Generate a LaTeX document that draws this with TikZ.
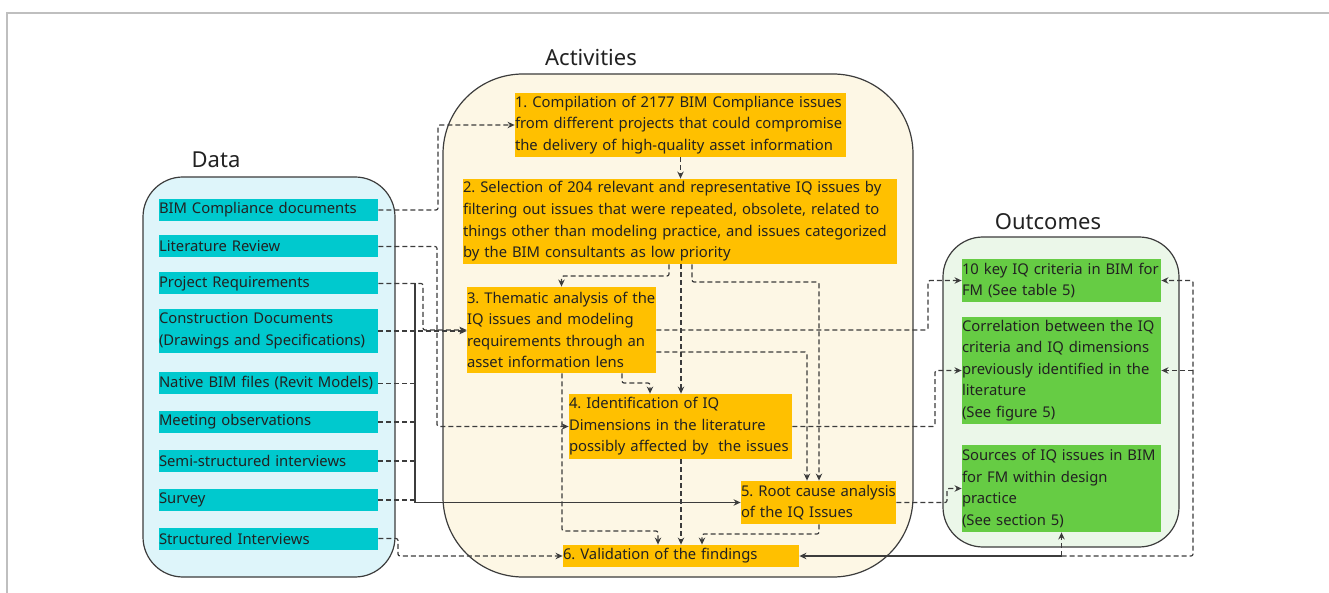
\documentclass[tikz,border=0pt]{standalone}
\usepackage{fontspec}
\setmainfont{Noto Sans}
\usetikzlibrary{arrows.meta}
\definecolor{srcfill}{RGB}{0,201,206}
\definecolor{actfill}{RGB}{255,192,0}
\definecolor{outfill}{RGB}{102,204,68}
\definecolor{srcbg}{RGB}{222,245,250}
\definecolor{actbg}{RGB}{253,247,229}
\definecolor{outbg}{RGB}{235,247,233}
\definecolor{linegray}{RGB}{60,60,60}
\definecolor{textdark}{RGB}{34,34,34}

\begin{document}
\begin{tikzpicture}[x=0.5pt,y=-0.5pt,
  every node/.style={font=\fontsize{7.4}{10.8}\selectfont\frenchspacing, text=textdark},
  box/.style={inner xsep=0pt, inner ysep=0pt, align=left},
  srcbox/.style={box, fill=srcfill, text width=109.5pt, minimum height=11pt},
  actbox/.style={box, fill=actfill},
  outbox/.style={box, fill=outfill, text width=99.5pt},
  group/.style={draw=linegray, line width=0.6pt},
  ttl/.style={font=\fontsize{11}{13}\selectfont},
  link/.style={draw=linegray, line width=0.6pt, dash pattern=on 2.5pt off 1.5pt, rounded corners=1pt, -{Stealth[length=3.5pt,width=3.2pt]}},
  busline/.style={draw=linegray, line width=0.7pt, -{Stealth[length=3.5pt,width=3.2pt]}}
]
\useasboundingbox[fill=white] (0,0) rectangle (1329,593);
\draw[gray!50, line width=1pt] (1329,13) -- (7,13) -- (7,593);

\draw[group, fill=srcbg, rounded corners=20pt] (143,177) rectangle (395,577);
\draw[group, fill=actbg, rounded corners=40pt] (443,74) rectangle (913,577);
\draw[group, fill=outbg, rounded corners=20pt] (943,237) rectangle (1179,547);

\node[ttl] (srcttl) at (216,160) {Data};
\node[ttl] (actttl) at (591,58) {Activities};
\node[ttl] (outttl) at (1048,222) {Outcomes};

\node[srcbox] (bim) at (268.5,210) {BIM Compliance documents};
\node[srcbox] (lit) at (268.5,246.5) {Literature Review};
\node[srcbox] (req) at (268.5,283.5) {Project Requirements};
\node[srcbox, minimum height=22pt] (cons) at (268.5,331) {Construction Documents\\(Drawings and Specifications)};
\node[srcbox] (rvt) at (268.5,383.5) {Native BIM files (Revit Models)};
\node[srcbox] (meet) at (268.5,422) {Meeting observations};
\node[srcbox] (semi) at (268.5,461) {Semi-structured interviews};
\node[srcbox] (surv) at (268.5,500) {Survey};
\node[srcbox] (sint) at (268.5,538.5) {Structured Interviews};

\node[actbox, text width=165.5pt, minimum height=32pt] (a1) at (680.5,125) {1. Compilation of 2177 BIM Compliance issues\\from different projects that could compromise\\the delivery of high-quality asset information};
\node[actbox, text width=217pt, minimum height=42.5pt] (a2) at (680,221.5) {2. Selection of 204 relevant and representative IQ issues by\\filtering out issues that were repeated, obsolete, related to\\things other than modeling practice, and issues categorized\\by the BIM consultants as low priority};
\node[actbox, text width=94.5pt, minimum height=43pt] (a3) at (561.5,330) {3. Thematic analysis of the\\IQ issues and modeling\\requirements through an\\asset information lens};
\node[actbox, text width=111.5pt, minimum height=32.5pt] (a4) at (680.5,426.5) {4. Identification of IQ\\Dimensions in the literature\\possibly affected by\ \ the issues};
\node[actbox, text width=77.5pt, minimum height=21.5pt] (a5) at (818.5,502.5) {5. Root cause analysis\\of the IQ Issues};
\node[actbox, text width=118pt, minimum height=11pt] (a6) at (681,556) {6. Validation of the findings};

\node[outbox, minimum height=21.5pt] (o1) at (1061.5,280.5) {10 key IQ criteria in BIM for\\FM (See table 5)};
\node[outbox, minimum height=53.5pt] (o2) at (1061.5,370.5) {Correlation between the IQ\\criteria and IQ dimensions\\previously identified in the\\literature\\(See figure 5)};
\node[outbox, minimum height=43.5pt] (o3) at (1061.5,488.5) {Sources of IQ issues in BIM\\for FM within design\\practice\\(See section 5)};

\draw[link] (bim.east) -- (438,210) |- (a1.west);
\draw[link] (lit.east) -- (437,246.5) |- (a4.west);
\draw[link] (req.east) -- (423,283.5) |- (a3.west);
\draw[link] (cons.east) -- (cons.east -| a3.west);
\draw[busline] (415,283.5) |- (a5.west);
\draw[link, -] (rvt.east) -- (rvt.east -| 415,0);
\draw[link, -] (meet.east) -- (meet.east -| 415,0);
\draw[link, -] (semi.east) -- (semi.east -| 415,0);
\draw[link, -] (surv.east) -- (surv.east -| 415,0);
\draw[link] (sint.east) -- (398,538.5) |- (a6.west);

\draw[link] (a1.south) -- (a1.south |- a2.north);
\draw[link] (a2.south -| 669,0) -- (669,276) -| (a3.north);
\draw[link] (a2.south -| 681,0) -- (a4.north -| 681,0);
\draw[link] (a2.south -| 692,0) -- (692,282) -| (a5.north -| 819,0);
\draw[link] (a3.east) -- (928,330) |- (o1.west);
\draw[link] (a3.east |- 0,352) -| (a5.north -| 807,0);
\draw[link] (a3.south -| 622,0) -- (622,383) -| (a4.north -| 650,0);
\draw[link] (a3.south -| 562,0) -- (562,531) -| (a6.north -| 658,0);
\draw[link] (a4.south -| 681,0) -- (a6.north -| 681,0);
\draw[link] (a5.south -| 819,0) -- (819,534) -| (a6.north -| 702,0);
\draw[link] (a4.east) -- (935,426.5) |- (o2.west);
\draw[link] (a5.east) -- (947,502.5) |- (o3.west);

\coordinate (fb) at (o3.south |- a6.east);
\draw[busline] (fb) -- (a6.east);
\draw[link] (fb) -- (o3.south);
\draw[link] (fb) -- (1193,556) |- (o1.east);
\draw[link] (1193,370.5) -- (o2.east);
\end{tikzpicture}
\end{document}
